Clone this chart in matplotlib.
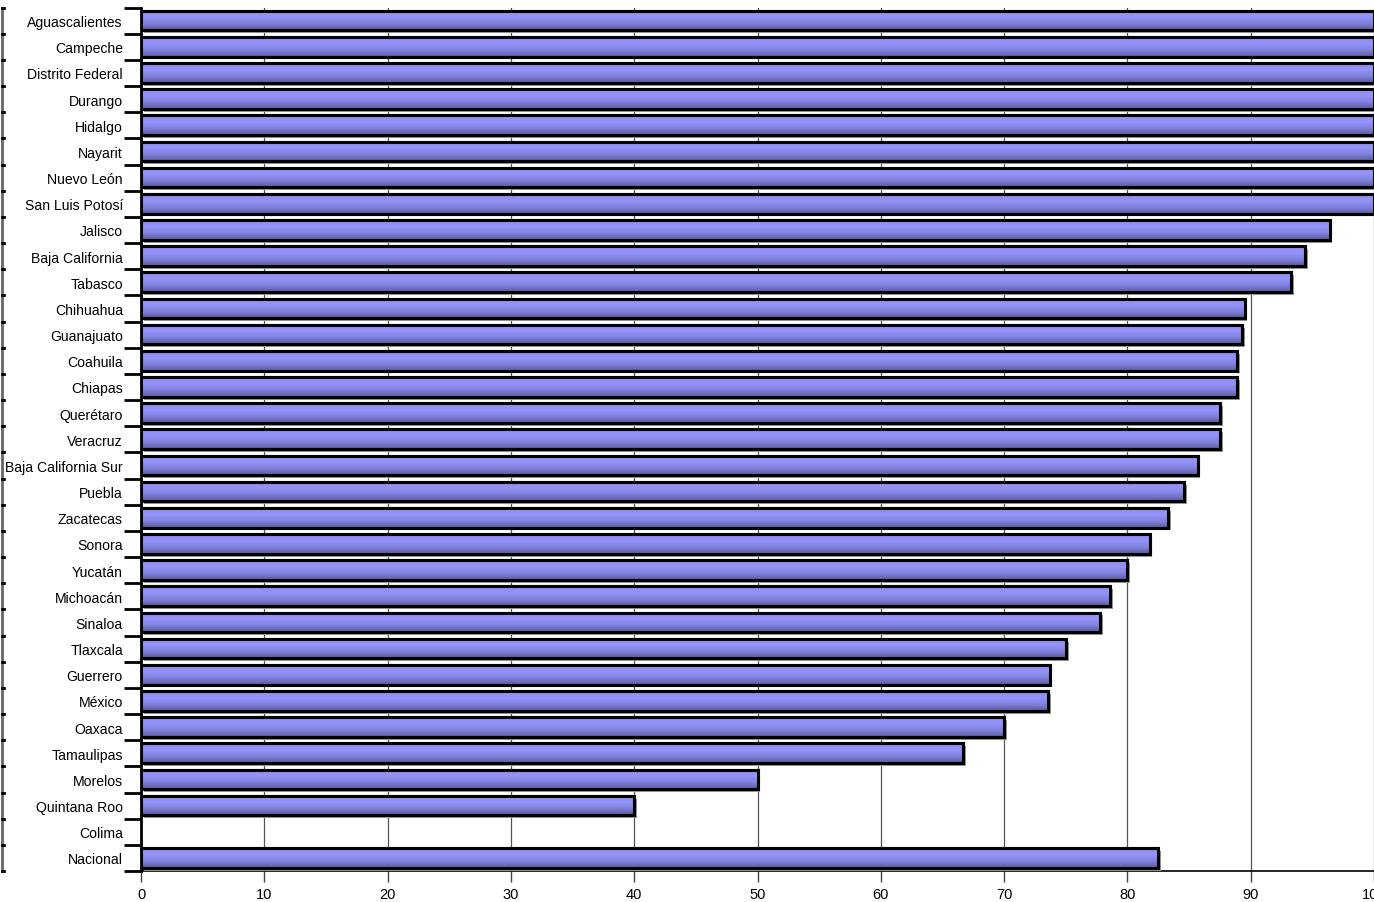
import numpy as np
import matplotlib
matplotlib.use("Agg")
import matplotlib.pyplot as plt
import matplotlib.patheffects as pe
from matplotlib.colors import LinearSegmentedColormap
from matplotlib.ticker import FixedLocator

states = ["Aguascalientes", "Campeche", "Distrito Federal", "Durango", "Hidalgo",
          "Nayarit", "Nuevo León", "San Luis Potosí", "Jalisco", "Baja California",
          "Tabasco", "Chihuahua", "Guanajuato", "Coahuila", "Chiapas", "Querétaro",
          "Veracruz", "Baja California Sur", "Puebla", "Zacatecas", "Sonora",
          "Yucatán", "Michoacán", "Sinaloa", "Tlaxcala", "Guerrero", "México",
          "Oaxaca", "Tamaulipas", "Morelos", "Quintana Roo", "Colima", "Nacional"]
values = [100, 100, 100, 100, 100, 100, 100, 100, 96.4, 94.4,
          93.3, 89.5, 89.3, 88.9, 88.9, 87.5, 87.5, 85.7, 84.6, 83.3,
          81.8, 80.0, 78.6, 77.8, 75.0, 73.7, 73.6, 70.0, 66.7, 50.0,
          40.0, 0.0, 82.5]
xticks = [0, 10, 20, 30, 40, 50, 60, 70, 80, 90, 100]

plt.rcParams['font.family'] = ['Liberation Sans', 'DejaVu Sans']

fig = plt.figure(figsize=(13.74, 9.03), dpi=100)
ax = fig.add_axes([141 / 1374, 1 - 872 / 903, 1233 / 1374, (872 - 8.5) / 903])

n = len(states)
ypos = np.arange(n)
h = 0.75
cmap = LinearSegmentedColormap.from_list("bar", ["#5a5a9e", "#8080dc", "#9494fa", "#8c8cee"])
grad = np.linspace(0, 1, 64).reshape(-1, 1)

bars = ax.barh(ypos, values, height=h, color="#8484e4", edgecolor="black",
               linewidth=2.2, zorder=3)
for b, v in zip(bars, values):
    if v <= 0:
        b.set_visible(False)
        continue
    b.set_path_effects([pe.SimplePatchShadow(offset=(2, -2), shadow_rgbFace="#9a9a9a", alpha=1.0),
                        pe.Normal()])
    x0, y0 = b.get_x(), b.get_y()
    im = ax.imshow(grad, extent=(x0, x0 + b.get_width(), y0, y0 + b.get_height()),
                   cmap=cmap, aspect="auto", origin="upper", zorder=3.5,
                   interpolation="bilinear")
    im.set_clip_path(b)
    edge = plt.Rectangle((x0, y0), b.get_width(), b.get_height(), fill=False,
                         edgecolor="black", linewidth=2.2, zorder=4)
    ax.add_patch(edge)

ax.set_xlim(0, 100)
ax.set_ylim(n - 0.5, -0.5)

ax.set_xticks(xticks)
ax.set_xticklabels([str(t) for t in xticks], fontsize=10.5)
ax.tick_params(axis="x", direction="out", length=8, width=1, pad=3.5, color="#444444")
ax.xaxis.grid(True, color="#555555", linewidth=0.9, zorder=0)

ax.set_yticks(ypos)
ax.set_yticklabels(states, fontsize=10.1)
ax.tick_params(axis="y", which="major", length=0, pad=13)
ax.yaxis.set_minor_locator(FixedLocator(np.arange(n + 1) - 0.5))
ax.tick_params(axis="y", which="minor", direction="out", length=12, width=2, color="black")

ax.spines["top"].set_visible(False)
ax.spines["right"].set_visible(False)
ax.spines["left"].set_linewidth(2)
ax.spines["bottom"].set_linewidth(1.2)
ax.set_axisbelow(True)

# stray axis line at far left edge
xl = -139 / 1233
ax.plot([xl, xl], [-0.5, n - 0.5], color="#666666", lw=2,
        transform=ax.get_yaxis_transform(), clip_on=False)
for yb in np.arange(n + 1) - 0.5:
    ax.plot([xl, xl + 2 / 1233], [yb, yb], color="black", lw=2,
            transform=ax.get_yaxis_transform(), clip_on=False)

fig.savefig("out.png", dpi=100)
